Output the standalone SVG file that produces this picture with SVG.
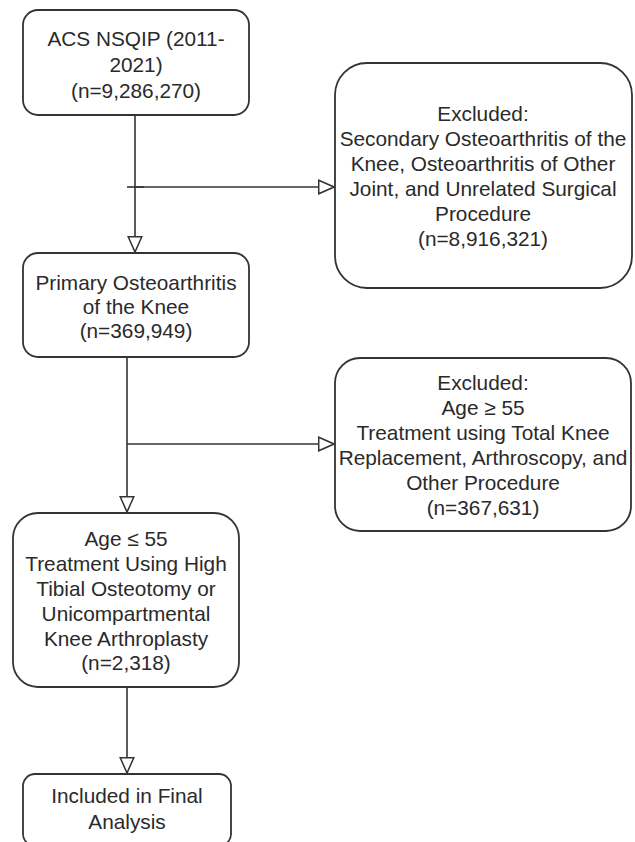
<svg xmlns="http://www.w3.org/2000/svg" width="635" height="842" viewBox="0 0 635 842">
<style>
.box{fill:#fff;stroke:#333;stroke-width:1.8}
.t{font-family:"Liberation Sans",Arial,sans-serif;font-size:20.8px;fill:#2a2a2a;text-anchor:middle;dominant-baseline:central}
.c{fill:none;stroke:#333;stroke-width:1.6}
</style>
<defs>
<marker id="tri" viewBox="0 0 20 20" refX="19" refY="10" markerWidth="17" markerHeight="17" markerUnits="userSpaceOnUse" orient="auto">
<path d="M1,2 L19,10 L1,18 Z" fill="#fff" stroke="#333" stroke-width="1.8"/>
</marker>
</defs>
<rect width="635" height="842" fill="#fff"/>
<g id="connectors">
<path class="c" d="M135,115 V252" marker-end="url(#tri)"/>
<path class="c" d="M127,187 H144" stroke-width="2.6"/>
<path class="c" d="M135,187 H334" marker-end="url(#tri)"/>
<path class="c" d="M127,357 V512" marker-end="url(#tri)"/>
<path class="c" d="M127,444 H334" marker-end="url(#tri)"/>
<path class="c" d="M127,687 V773" marker-end="url(#tri)"/>
</g>
<g id="n1">
<rect class="box" x="23" y="10" width="226" height="105" rx="15"/>
<text class="t" x="136" y="38">ACS NSQIP (2011-</text>
<text class="t" x="136" y="64">2021)</text>
<text class="t" x="136" y="90">(n=9,286,270)</text>
</g>
<g id="n2">
<rect class="box" x="335" y="63" width="297" height="225" rx="32"/>
<text class="t" x="483" y="113">Excluded:</text>
<text class="t" x="483" y="138">Secondary Osteoarthritis of the</text>
<text class="t" x="483" y="163">Knee, Osteoarthritis of Other</text>
<text class="t" x="483" y="188">Joint, and Unrelated Surgical</text>
<text class="t" x="483" y="213">Procedure</text>
<text class="t" x="483" y="238">(n=8,916,321)</text>
</g>
<g id="n3">
<rect class="box" x="23" y="253" width="226" height="104" rx="15"/>
<text class="t" x="136" y="282">Primary Osteoarthritis</text>
<text class="t" x="136" y="306">of the Knee</text>
<text class="t" x="136" y="330">(n=369,949)</text>
</g>
<g id="n4">
<rect class="box" x="335" y="358" width="296" height="173" rx="25"/>
<text class="t" x="483" y="382">Excluded:</text>
<text class="t" x="483" y="407">Age ≥ 55</text>
<text class="t" x="483" y="432">Treatment using Total Knee</text>
<text class="t" x="483" y="457">Replacement, Arthroscopy, and</text>
<text class="t" x="483" y="482">Other Procedure</text>
<text class="t" x="483" y="507">(n=367,631)</text>
</g>
<g id="n5">
<rect class="box" x="13" y="513" width="226" height="174" rx="25"/>
<text class="t" x="126" y="538">Age ≤ 55</text>
<text class="t" x="126" y="563">Treatment Using High</text>
<text class="t" x="126" y="588">Tibial Osteotomy or</text>
<text class="t" x="126" y="613">Unicompartmental</text>
<text class="t" x="126" y="638">Knee Arthroplasty</text>
<text class="t" x="126" y="662">(n=2,318)</text>
</g>
<g id="n6">
<rect class="box" x="23" y="774" width="208" height="72" rx="12"/>
<text class="t" x="127" y="795">Included in Final</text>
<text class="t" x="127" y="821">Analysis</text>
</g>
</svg>
